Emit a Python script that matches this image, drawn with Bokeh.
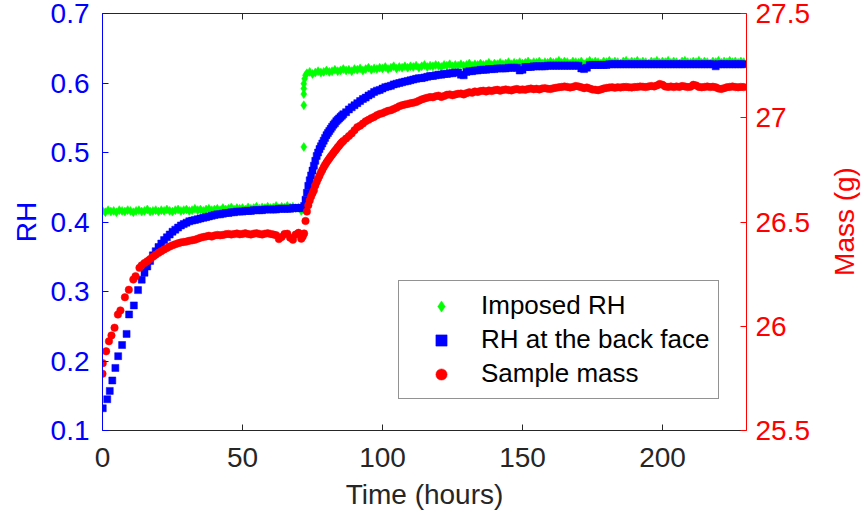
import math
from bokeh.plotting import figure
from bokeh.models import Range1d, LinearAxis, FixedTicker, CustomJSTickFormatter, Legend, LegendItem, Label
from bokeh.embed import file_html
from bokeh.resources import INLINE

# ---------------- data ----------------
HALF = [71.5 + 0.5 * i for i in range(30)]  # half-hour sampling 71.5 .. 86

# Imposed RH (green)
t_imposed = list(range(0, 72)) + [71.9, 71.9, 71.9, 71.9, 71.9, 72.2, 72.5] + list(range(73, 230))
rh_imposed = [
    0.416, 0.414, 0.417, 0.415, 0.416, 0.414, 0.417, 0.416, 0.415, 0.417,
    0.416, 0.414, 0.416, 0.417, 0.415, 0.416, 0.418, 0.415, 0.416, 0.417,
    0.415, 0.417, 0.416, 0.418, 0.416, 0.415, 0.417, 0.418, 0.416, 0.417,
    0.418, 0.416, 0.417, 0.419, 0.417, 0.418, 0.416, 0.418, 0.419, 0.417,
    0.418, 0.419, 0.417, 0.420, 0.418, 0.419, 0.421, 0.418, 0.420, 0.419,
    0.420, 0.418, 0.421, 0.419, 0.420, 0.422, 0.419, 0.421, 0.420, 0.422,
    0.420, 0.421, 0.423, 0.420, 0.422, 0.421, 0.423, 0.421, 0.422, 0.420, 0.421, 0.416,
    0.508, 0.568, 0.584, 0.592, 0.599, 0.606, 0.611,
    0.614, 0.616, 0.613, 0.615, 0.617, 0.615, 0.616,
    0.618, 0.616, 0.617, 0.619, 0.617, 0.618, 0.620, 0.618, 0.619, 0.617,
    0.620, 0.619, 0.621, 0.618, 0.620, 0.622, 0.619, 0.621, 0.620, 0.622,
    0.621, 0.623, 0.620, 0.622, 0.624, 0.621, 0.623, 0.622, 0.624, 0.622,
    0.624, 0.623, 0.625, 0.622, 0.624, 0.626, 0.623, 0.625, 0.624, 0.626,
    0.625, 0.623, 0.626, 0.625, 0.627, 0.624, 0.626, 0.625, 0.627, 0.625,
    0.626, 0.628, 0.625, 0.627, 0.626, 0.628, 0.626, 0.627, 0.629, 0.626,
    0.628, 0.627, 0.629, 0.627, 0.628, 0.630, 0.627, 0.629, 0.628, 0.630,
    0.628, 0.629, 0.631, 0.628, 0.630, 0.629, 0.631, 0.628, 0.630, 0.629,
    0.631, 0.629, 0.630, 0.632, 0.629, 0.631, 0.630, 0.628, 0.631, 0.630,
    0.629, 0.631, 0.627, 0.630, 0.632, 0.629, 0.631, 0.630, 0.628, 0.631,
    0.630, 0.632, 0.629, 0.631, 0.630, 0.628, 0.631, 0.632, 0.629, 0.631,
    0.630, 0.632, 0.629, 0.631, 0.630, 0.628, 0.631, 0.630, 0.632, 0.629,
    0.631, 0.630, 0.632, 0.629, 0.631, 0.630, 0.628, 0.631, 0.632, 0.630,
    0.629, 0.631, 0.630, 0.632, 0.629, 0.631, 0.630, 0.628, 0.631, 0.630,
    0.632, 0.629, 0.631, 0.630, 0.632, 0.630, 0.631, 0.629, 0.631, 0.630,
]

# RH at the back face (blue)
t_back = [0.1, 1.7, 2.6, 3.5, 4.6, 5.6, 7.0, 8.6, 9.5, 11.2, 12.7] + list(range(14, 72)) + HALF + list(range(87, 230))
rh_back = [
    0.132, 0.145, 0.157, 0.172, 0.190, 0.207, 0.223, 0.239, 0.267, 0.280, 0.302,
    0.317, 0.327, 0.336, 0.344, 0.352, 0.358, 0.364, 0.369, 0.374, 0.378,
    0.382, 0.386, 0.389, 0.392, 0.395, 0.397, 0.399, 0.401, 0.402, 0.403,
    0.404, 0.405, 0.406, 0.407, 0.408, 0.409, 0.410, 0.411, 0.411, 0.412,
    0.413, 0.413, 0.414, 0.414, 0.415, 0.415, 0.415, 0.416, 0.416, 0.416,
    0.417, 0.417, 0.417, 0.417, 0.418, 0.418, 0.418, 0.418, 0.418, 0.419,
    0.419, 0.419, 0.419, 0.419, 0.420, 0.420, 0.420, 0.420,
    0.420, 0.423, 0.432, 0.442, 0.452, 0.460, 0.467, 0.474, 0.481, 0.488,
    0.495, 0.500, 0.505, 0.509, 0.513, 0.517, 0.521, 0.525, 0.528, 0.531,
    0.534, 0.537, 0.540, 0.542, 0.545, 0.547, 0.549, 0.551, 0.553, 0.555,
    0.558, 0.562, 0.565, 0.568, 0.571, 0.574, 0.577, 0.579, 0.582, 0.584,
    0.587, 0.589, 0.590, 0.592, 0.594, 0.595, 0.596, 0.598, 0.599, 0.600,
    0.601, 0.602, 0.603, 0.604, 0.605, 0.606, 0.607, 0.607, 0.608, 0.609,
    0.610, 0.610, 0.611, 0.612, 0.612, 0.613, 0.613, 0.614, 0.614, 0.615,
    0.615, 0.612, 0.611, 0.616, 0.617, 0.617, 0.618, 0.618, 0.619, 0.619,
    0.619, 0.620, 0.620, 0.620, 0.621, 0.621, 0.621, 0.621, 0.622, 0.622,
    0.622, 0.622, 0.618, 0.619, 0.623, 0.623, 0.623, 0.624, 0.624, 0.624,
    0.624, 0.624, 0.625, 0.625, 0.625, 0.625, 0.625, 0.625, 0.625, 0.625,
    0.625, 0.625, 0.625, 0.625, 0.621, 0.620, 0.622, 0.626, 0.626, 0.626,
    0.626, 0.626, 0.626, 0.626, 0.627, 0.627, 0.627, 0.627, 0.627, 0.627,
    0.627, 0.627, 0.627, 0.627, 0.627, 0.627, 0.627, 0.627, 0.627, 0.627,
    0.627, 0.627, 0.627, 0.627, 0.627, 0.627, 0.627, 0.627, 0.627, 0.627,
    0.627, 0.627, 0.627, 0.627, 0.627, 0.627, 0.627, 0.627, 0.627, 0.627,
    0.627, 0.627, 0.624, 0.627, 0.627, 0.627, 0.627, 0.627, 0.627, 0.627,
    0.627, 0.627, 0.627,
]

# Sample mass (red, right axis)
t_mass = [0.0, 0.1, 1.3, 2.3, 3.2, 4.3, 5.5, 6.4, 8.0, 9.4, 11.0, 11.8, 13.2] + list(range(14, 72)) + HALF + list(range(87, 230))
mass = [
    25.772, 25.823, 25.880, 25.928, 25.956, 25.993, 26.056, 26.076, 26.139, 26.175, 26.224, 26.240, 26.280,
    26.292, 26.303, 26.312, 26.322, 26.333, 26.343, 26.352, 26.360, 26.368, 26.375,
    26.382, 26.388, 26.393, 26.398, 26.402, 26.404, 26.406, 26.410, 26.412, 26.415,
    26.420, 26.425, 26.428, 26.431, 26.434, 26.430, 26.435, 26.438, 26.436, 26.438,
    26.441, 26.443, 26.440, 26.442, 26.445, 26.441, 26.443, 26.446, 26.442, 26.440,
    26.444, 26.446, 26.443, 26.440, 26.444, 26.446, 26.443, 26.440, 26.437, 26.418,
    26.428, 26.442, 26.444, 26.425, 26.415, 26.440, 26.448, 26.420,
    26.430, 26.445, 26.505, 26.550, 26.580, 26.603, 26.622, 26.638, 26.652, 26.675,
    26.692, 26.708, 26.722, 26.737, 26.750, 26.763, 26.774, 26.785, 26.795, 26.805,
    26.814, 26.823, 26.832, 26.841, 26.849, 26.858, 26.866, 26.875, 26.882, 26.889,
    26.900, 26.912, 26.925, 26.940, 26.955, 26.962, 26.972, 26.983, 26.990, 26.998,
    27.004, 27.012, 27.018, 27.022, 27.028, 27.033, 27.036, 27.042, 27.048, 27.055,
    27.060, 27.063, 27.066, 27.070, 27.072, 27.075, 27.082, 27.088, 27.092, 27.096,
    27.099, 27.098, 27.103, 27.106, 27.100, 27.104, 27.110, 27.112, 27.108, 27.112,
    27.115, 27.116, 27.112, 27.118, 27.122, 27.120, 27.126, 27.124, 27.128, 27.130,
    27.126, 27.131, 27.128, 27.132, 27.134, 27.130, 27.133, 27.136, 27.133, 27.131,
    27.135, 27.138, 27.134, 27.136, 27.134, 27.138, 27.140, 27.137, 27.139, 27.136,
    27.140, 27.142, 27.139, 27.138, 27.141, 27.144, 27.146, 27.148, 27.150, 27.148,
    27.145, 27.148, 27.152, 27.150, 27.146, 27.142, 27.145, 27.140, 27.136, 27.134,
    27.132, 27.136, 27.140, 27.143, 27.145, 27.146, 27.144, 27.146, 27.145, 27.147,
    27.148, 27.146, 27.145, 27.147, 27.148, 27.150, 27.149, 27.147, 27.150, 27.152,
    27.150, 27.155, 27.162, 27.158, 27.150, 27.148, 27.150, 27.147, 27.150, 27.148,
    27.152, 27.150, 27.147, 27.149, 27.158, 27.155, 27.148, 27.146, 27.148, 27.150,
    27.147, 27.149, 27.146, 27.140, 27.138, 27.142, 27.146, 27.148, 27.150, 27.147,
    27.146, 27.148, 27.147,
]

x_ticks = [0, 50, 100, 150, 200]
rh_ticks = [0.1, 0.2, 0.3, 0.4, 0.5, 0.6, 0.7]
mass_ticks = [25.5, 26, 26.5, 27, 27.5]
series_labels = ["Imposed RH", "RH at the back face", "Sample mass"]

# ---------------- styling ----------------
FONT = "Liberation Sans"
DARK = "#262626"
BLUE = "#0000FF"
RED = "#FF0000"
GREEN = "#00FF00"
TICK_FS = "28px"
LABEL_FS = "28px"

fmt = CustomJSTickFormatter(code="return String(Math.round(tick*1000)/1000);")
blank_fmt = CustomJSTickFormatter(code="return '';")

p = figure(width=862, height=517, output_backend="svg", toolbar_location=None,
           x_range=Range1d(0, 230), y_range=Range1d(0.1, 0.7),
           min_border_left=102, min_border_right=116, min_border_top=13, min_border_bottom=87,
           background_fill_color="white", border_fill_color="white")
p.grid.visible = False
p.outline_line_color = None
p.extra_y_ranges = {"mass": Range1d(25.5, 27.5)}


def style_axis(ax, color, ticks):
    ax.ticker = FixedTicker(ticks=ticks)
    ax.formatter = fmt
    ax.axis_line_color = color
    ax.axis_line_width = 1
    ax.major_tick_line_color = color
    ax.major_tick_in = 6
    ax.major_tick_out = 0
    ax.minor_tick_line_color = None
    ax.major_label_text_color = color
    ax.major_label_text_font = FONT
    ax.major_label_text_font_size = TICK_FS
    ax.axis_label_text_color = color
    ax.axis_label_text_font = FONT
    ax.axis_label_text_font_size = LABEL_FS
    ax.axis_label_text_font_style = "normal"


xa = p.xaxis[0]
style_axis(xa, DARK, x_ticks)
xa.axis_label = "Time (hours)"
xa.major_label_standoff = 17
xa.axis_label_standoff = 9

ya = p.yaxis[0]
style_axis(ya, BLUE, rh_ticks)
ya.axis_label = "RH"
ya.major_label_standoff = 13
ya.axis_label_standoff = 6

ra = LinearAxis(y_range_name="mass")
style_axis(ra, RED, mass_ticks)
ra.major_label_standoff = 9
p.add_layout(ra, "right")

# right-axis title, reading bottom-to-top like the reference (placed in the right side panel)
mass_title = Label(x=32, y=209, x_units="screen", y_units="screen", text="Mass (g)",
                   angle=math.pi / 2, text_align="center", text_baseline="middle",
                   text_color=RED, text_font=FONT, text_font_size=LABEL_FS)
p.add_layout(mass_title, "right")

ta = LinearAxis()
style_axis(ta, DARK, x_ticks)
ta.formatter = blank_fmt
ta.major_label_text_font_size = "10px"
ta.major_label_standoff = 0
p.add_layout(ta, "above")

r_imp = p.scatter(t_imposed, rh_imposed, marker="diamond", size=9,
                  fill_color=GREEN, line_color=GREEN, line_width=0.5)
r_back = p.scatter(t_back, rh_back, marker="square", size=7,
                   fill_color=BLUE, line_color=BLUE, line_width=0.5)
r_mass = p.scatter(t_mass, mass, marker="circle", size=7.5, y_range_name="mass",
                   fill_color=RED, line_color=RED, line_width=0.5)

legend = Legend(items=[LegendItem(label=series_labels[0], renderers=[r_imp]),
                       LegendItem(label=series_labels[1], renderers=[r_back]),
                       LegendItem(label=series_labels[2], renderers=[r_mass])],
                location=(296, 31))
legend.label_text_font = FONT
legend.label_text_font_size = "26px"
legend.label_text_color = "black"
legend.glyph_width = 66
legend.glyph_height = 28
legend.label_height = 28
legend.label_standoff = 7
legend.spacing = 3
legend.padding = 9
legend.margin = 0
legend.border_line_color = DARK
legend.border_line_width = 1
legend.background_fill_color = "white"
legend.background_fill_alpha = 1
p.add_layout(legend)

open("out.html", "w").write(file_html(p, INLINE))
